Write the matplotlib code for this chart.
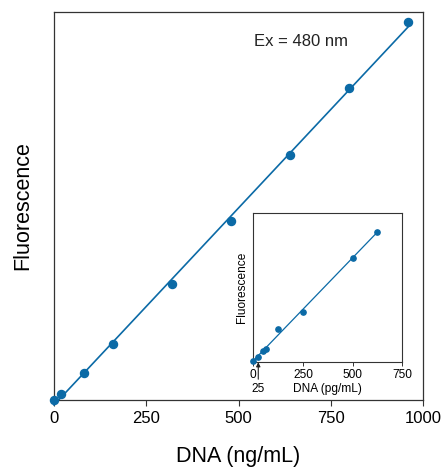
import numpy as np
import matplotlib
matplotlib.use("Agg")
import matplotlib.pyplot as plt

plt.rcParams['font.family'] = ['Liberation Sans', 'DejaVu Sans']

blue = '#0b6aa6'
edge = '#333333'

# main curve (ng/mL) - fluorescence in arbitrary units
dna_ng = [0, 20, 80, 160, 320, 480, 640, 800, 960]
fluor_ng = [0, 15, 70, 144, 299, 461, 631, 804, 974]

# inset curve (pg/mL)
dna_pg = [0, 25, 50, 62.5, 125, 250, 500, 625]
fluor_pg = [1, 5, 11.6, 13.3, 33.6, 50.6, 104, 130.6]

main_ticks = [0, 250, 500, 750, 1000]
inset_ticks = [0, 250, 500, 750]

fig = plt.figure(figsize=(4.43, 4.67), dpi=100)
ax = fig.add_axes([0.1219, 0.1435, 0.833, 0.8308])

k, b = np.polyfit(dna_ng, fluor_ng, 1)
xl = np.array([0, 965])
ax.plot(xl, k * xl + b, color=blue, lw=1.2, clip_on=False)
ax.plot(dna_ng, fluor_ng, 'o', color=blue, ms=5.8, clip_on=False, zorder=3)
ax.set_xlim(0, 1000)
ax.set_ylim(0, 1000)
ax.set_xticks(main_ticks)
ax.set_yticks([])
ax.tick_params(axis='x', direction='out', length=4, width=0.8, color=edge,
               labelsize=12, pad=4)
for s in ax.spines.values():
    s.set_color(edge)
    s.set_linewidth(0.9)
ax.set_xlabel('DNA (ng/mL)', fontsize=15.5, labelpad=14)
ax.set_ylabel('Fluorescence', fontsize=15.5, labelpad=15)
ax.text(0.543, 0.913, 'Ex = 480 nm', transform=ax.transAxes, fontsize=12,
        color='#222222')

ins = fig.add_axes([0.5718, 0.2242, 0.3363, 0.3191])
k2, b2 = np.polyfit(dna_pg, fluor_pg, 1)
xl2 = np.array([0, max(dna_pg)])
ins.plot(xl2, k2 * xl2 + b2, color=blue, lw=0.9, clip_on=False)
ins.plot(dna_pg, fluor_pg, 'o', color=blue, ms=3.8, clip_on=False, zorder=3)
ins.set_xlim(0, 750)
ins.set_ylim(0, 149)
ins.set_xticks(inset_ticks)
ins.set_yticks([])
ins.tick_params(axis='x', direction='out', length=3, width=0.7, color=edge,
                labelsize=8.6, pad=1.5)
for s in ins.spines.values():
    s.set_color(edge)
    s.set_linewidth(0.8)
ins.set_xlabel('DNA (pg/mL)', fontsize=8.6, labelpad=2)
ins.set_ylabel('Fluorescence', fontsize=8.6, labelpad=4)
ins.annotate('25', xy=(25, 0), xytext=(25, -19), textcoords=('data', 'offset points'),
             ha='center', va='center', fontsize=8.6, annotation_clip=False,
             arrowprops=dict(arrowstyle='-|>', color='#222222', lw=0.8,
                             mutation_scale=6, shrinkA=0.5, shrinkB=0))

fig.savefig('out.png', dpi=100)
